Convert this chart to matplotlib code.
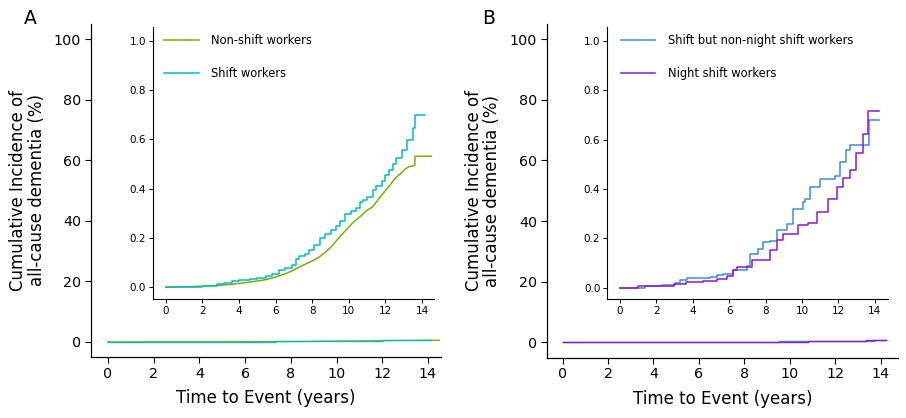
import matplotlib
matplotlib.use("Agg")
import matplotlib.pyplot as plt
import numpy as np

plt.rcParams['font.family'] = ['DejaVu Sans']

# ---------------- data (cumulative incidence, fraction) ----------------
nonshift_t = [0, 1, 2, 3, 3.5, 4, 4.5, 5, 5.5, 6, 6.3, 6.6, 7, 7.5, 8, 8.4, 8.8, 9.1, 9.5,
              10, 10.3, 10.6, 11, 11.3, 11.6, 12, 12.25, 12.5, 12.8, 13.1, 13.3, 13.5,
              13.6, 13.62, 14.5]
nonshift_v = [0, 0.002, 0.005, 0.009, 0.012, 0.016, 0.021, 0.026, 0.032, 0.042, 0.05, 0.057,
              0.071, 0.09, 0.107, 0.124, 0.148, 0.17, 0.205, 0.245, 0.268, 0.286, 0.313,
              0.327, 0.356, 0.393, 0.415, 0.44, 0.46, 0.481, 0.49, 0.493, 0.495, 0.532, 0.532]

shift_t = [0, 1, 2, 2.8, 3.2, 3.6, 4.0, 4.6, 5.0, 5.5, 5.8, 6.2, 6.5, 6.9, 7.1, 7.3, 7.6,
           7.8, 8.1, 8.4, 8.7, 9.0, 9.3, 9.5, 9.8, 10.1, 10.4, 10.6, 10.8, 11.0, 11.3,
           11.5, 11.8, 12.0, 12.2, 12.4, 12.6, 12.9, 13.2, 13.5, 13.62, 14.15]
shift_v = [0, 0.003, 0.007, 0.012, 0.018, 0.025, 0.03, 0.036, 0.04, 0.046, 0.055, 0.07,
           0.08, 0.09, 0.115, 0.128, 0.135, 0.151, 0.17, 0.2, 0.215, 0.232, 0.25, 0.27,
           0.296, 0.31, 0.32, 0.345, 0.354, 0.365, 0.395, 0.411, 0.43, 0.455, 0.476, 0.5,
           0.523, 0.557, 0.597, 0.645, 0.699, 0.699]

nonnight_t = [0, 1.37, 2.29, 3.0, 3.3, 3.7, 4.94, 5.3, 5.67, 6.22, 6.96, 7.14, 7.6, 7.87,
              8.24, 8.6, 9.15, 9.52, 10.07, 10.16, 10.43, 10.98, 11.81, 12.08, 12.41,
              12.63, 13.69, 14.24]
nonnight_v = [0, 0.008, 0.013, 0.02, 0.03, 0.038, 0.043, 0.05, 0.057, 0.07, 0.09, 0.138,
              0.158, 0.185, 0.19, 0.232, 0.259, 0.32, 0.347, 0.361, 0.408, 0.442, 0.451,
              0.509, 0.557, 0.577, 0.682, 0.682]

night_t = [0, 1.0, 2.97, 3.62, 4.57, 5.31, 5.86, 6.22, 6.41, 7.23, 7.78, 8.24, 8.6, 8.97,
           9.8, 10.34, 10.8, 11.44, 11.9, 12.26, 12.63, 12.96, 13.33, 13.64, 14.24]
night_v = [0, 0.008, 0.016, 0.023, 0.027, 0.036, 0.046, 0.07, 0.086, 0.111, 0.113, 0.151,
           0.192, 0.219, 0.255, 0.262, 0.307, 0.361, 0.408, 0.446, 0.476, 0.546, 0.624,
           0.716, 0.716]

# (label, times, values, colour, drawstyle)
panels = [
    dict(letter="A",
         series=[("Non-shift workers", nonshift_t, nonshift_v, "#7CAE00", "default"),
                 ("Shift workers", shift_t, shift_v, "#00BEC8", "steps-post")]),
    dict(letter="B",
         series=[("Shift but non-night shift workers", nonnight_t, nonnight_v, "#3A8EDB", "steps-post"),
                 ("Night shift workers", night_t, night_v, "#8E17D4", "steps-post")]),
]

main_xticks = list(range(0, 15, 2))
main_yticks = [0, 20, 40, 60, 80, 100]
inset_yticks = [0.0, 0.2, 0.4, 0.6, 0.8, 1.0]

W, H = 906, 418
fig = plt.figure(figsize=(W / 100, H / 100), dpi=100)

main_boxes = [(91, 24, 441, 357), (546.7, 24, 898, 357.5)]
inset_boxes = [(153, 27, 434, 299), (607.3, 27.3, 888, 299.3)]
main_xlims = [(-0.74, 14.57), (-0.70, 14.76)]
inset_xlims = [(-0.69, 14.65), (-0.70, 14.72)]
letter_pos = [(30, 19), (489, 18.5)]
leg_anchor = [(11, 27), (13.4, 27.3)]


def box(b):
    l, t, r, bt = b
    return [l / W, 1 - bt / H, (r - l) / W, (bt - t) / H]


for i, p in enumerate(panels):
    ax = fig.add_axes(box(main_boxes[i]))
    for name, t, v, c, ds in p["series"]:
        ax.plot(t, v, drawstyle=ds, color=c, lw=1.0)
    ax.set_xlim(*main_xlims[i])
    ax.set_ylim(-5, 105)
    ax.set_xticks(main_xticks)
    ax.set_yticks(main_yticks)
    for s in ["top", "right"]:
        ax.spines[s].set_visible(False)
    for s in ["left", "bottom"]:
        ax.spines[s].set_linewidth(0.9)
    ax.tick_params(labelsize=10.3, length=4, width=0.8, pad=3, colors="black")
    ax.set_xlabel("Time to Event (years)", fontsize=12, labelpad=6)
    ax.set_ylabel("Cumulative Incidence of\nall-cause dementia (%)", fontsize=12,
                  labelpad=6, linespacing=1.05)
    fig.text(letter_pos[i][0] / W, 1 - letter_pos[i][1] / H, p["letter"],
             fontsize=13.5, ha="center", va="center")

    ins = fig.add_axes(box(inset_boxes[i]), facecolor="none")
    handles = []
    for name, t, v, c, ds in p["series"]:
        h, = ins.plot(t, v, drawstyle=ds, color=c, lw=1.1, label=name)
        handles.append(h)
    ins.set_xlim(*inset_xlims[i])
    ins.set_ylim(-0.047, 1.056)
    ins.set_xticks(main_xticks)
    ins.set_yticks(inset_yticks)
    ins.set_yticklabels([f"{y:.1f}" for y in inset_yticks])
    for s in ["top", "right"]:
        ins.spines[s].set_visible(False)
    for s in ["left", "bottom"]:
        ins.spines[s].set_linewidth(0.8)
    ins.tick_params(labelsize=7.5, length=3, width=0.7, pad=2, colors="black")
    il, it, ir, ib = inset_boxes[i]
    ax_x = leg_anchor[i][0] / (ir - il)
    ins.legend(handles=handles, loc="upper left",
               bbox_to_anchor=(ax_x, 1.0 - 7 / (ib - it)),
               frameon=False, fontsize=8.3, handlelength=3.0, handletextpad=1.1,
               labelspacing=1.75, borderpad=0, borderaxespad=0)

fig.savefig("out.png", dpi=100)
